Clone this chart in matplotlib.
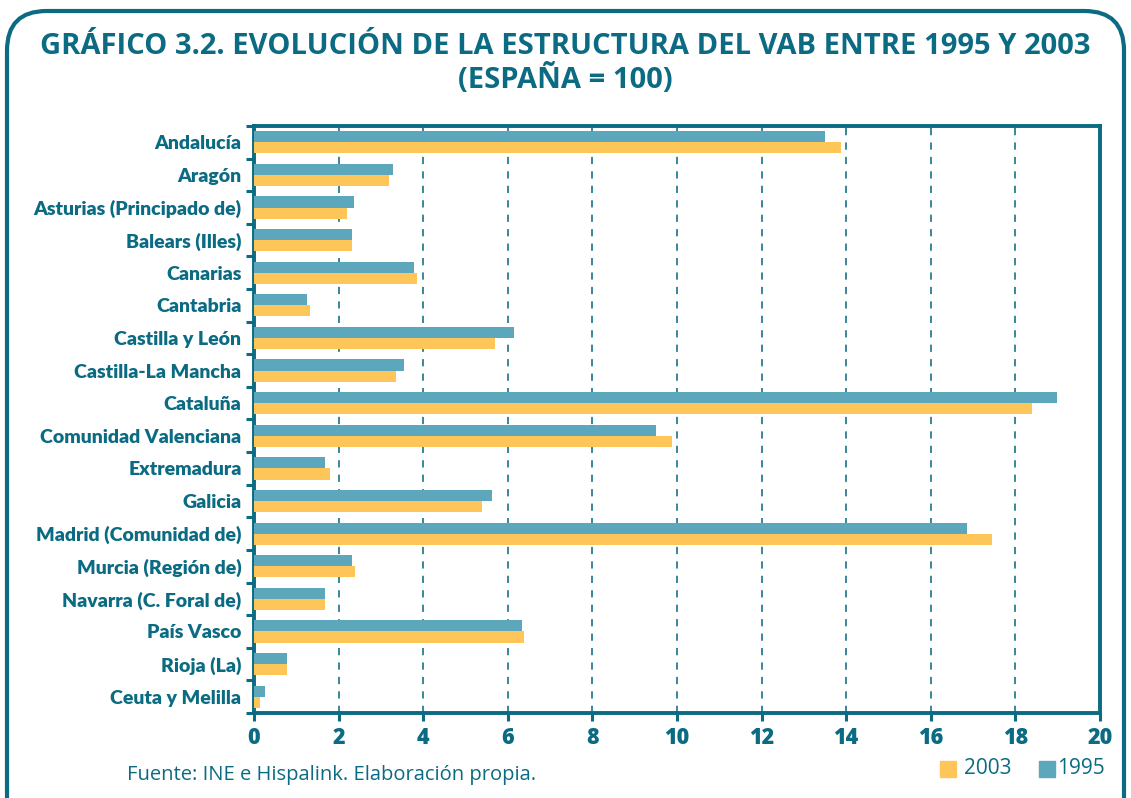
import matplotlib
matplotlib.use("Agg")
import matplotlib.pyplot as plt
from matplotlib.patches import FancyBboxPatch, Rectangle
import numpy as np

regions = ["Andalucía", "Aragón", "Asturias (Principado de)", "Balears (Illes)", "Canarias",
           "Cantabria", "Castilla y León", "Castilla-La Mancha", "Cataluña",
           "Comunidad Valenciana", "Extremadura", "Galicia", "Madrid (Comunidad de)",
           "Murcia (Región de)", "Navarra (C. Foral de)", "País Vasco", "Rioja (La)",
           "Ceuta y Melilla"]
v1995 = [13.49, 3.29, 2.37, 2.32, 3.79, 1.25, 6.15, 3.55, 18.98, 9.51, 1.68, 5.63,
         16.85, 2.32, 1.68, 6.34, 0.78, 0.26]
v2003 = [13.87, 3.20, 2.20, 2.32, 3.86, 1.33, 5.70, 3.36, 18.39, 9.87, 1.80, 5.40,
         17.44, 2.39, 1.68, 6.39, 0.78, 0.14]
xticks = [0, 2, 4, 6, 8, 10, 12, 14, 16, 18, 20]

TEAL = "#0b6b82"
C1995 = "#5da7bc"
C2003 = "#fec658"
LABEL_FONT = ["Lato", "Open Sans", "DejaVu Sans"]
TITLE_FONT = ["Open Sans", "DejaVu Sans"]

fig = plt.figure(figsize=(11.31, 7.98), dpi=100)
fig.patch.set_facecolor("white")

# outer rounded frame
frame = FancyBboxPatch((7 / 1131, -0.05), 1117 / 1131, (798 - 11) / 798 + 0.05,
                       boxstyle="round,pad=0,rounding_size=0.035",
                       transform=fig.transFigure, fill=False, edgecolor=TEAL,
                       linewidth=3.0, mutation_aspect=1131 / 798)
fig.patches.append(frame)

fig.text(0.5, 1 - 47 / 798, "GRÁFICO 3.2. EVOLUCIÓN DE LA ESTRUCTURA DEL VAB ENTRE 1995 Y 2003",
         ha="center", va="center", fontsize=21, fontweight="bold", color=TEAL,
         family=TITLE_FONT)
fig.text(0.5, 1 - 79 / 798, "(ESPAÑA = 100)", ha="center", va="center", fontsize=21,
         fontweight="bold", color=TEAL, family=TITLE_FONT)

ax = fig.add_axes([254 / 1131, 1 - 713 / 798, (1100 - 254) / 1131, (713 - 126) / 798])
y = np.arange(len(regions))
h = 0.34
ax.barh(y - h / 2, v1995, height=h, color=C1995, label="1995", zorder=3)
ax.barh(y + h / 2, v2003, height=h, color=C2003, label="2003", zorder=3)

ax.set_xlim(0, 20)
ax.set_ylim(len(regions) - 0.5, -0.5)
ax.set_xticks(xticks)
ax.set_xticklabels([str(t) for t in xticks], fontsize=15.5, fontweight="heavy", color=TEAL,
                   family=TITLE_FONT)
ax.set_yticks(y)
ax.set_yticklabels(regions, fontsize=14, fontweight="heavy", color=TEAL, family=LABEL_FONT)
ax.tick_params(axis="y", which="major", length=0, pad=9)
ax.set_yticks(np.arange(-0.5, len(regions), 1), minor=True)
ax.tick_params(axis="y", which="minor", length=6, width=2.2, color=TEAL, direction="out")
ax.tick_params(axis="x", which="major", length=6, width=2.2, color=TEAL, direction="out",
               pad=3)

for t in xticks[1:-1]:
    ax.axvline(t, color="#2b7d92", linestyle=(0, (4, 4)), linewidth=1.3, zorder=1)

for s in ax.spines.values():
    s.set_color(TEAL)
    s.set_linewidth(2.8)

fig.text(127 / 1131, 1 - 775 / 798, "Fuente: INE e Hispalink. Elaboración propia.",
         ha="left", va="center", fontsize=14.5, color=TEAL, family=TITLE_FONT)

# legend
fig.patches.append(Rectangle((940 / 1131, 1 - 777 / 798), 16 / 1131, 16 / 798,
                             transform=fig.transFigure, color=C2003))
fig.text(964 / 1131, 1 - 769 / 798, "2003", ha="left", va="center", fontsize=15,
         color=TEAL, family=TITLE_FONT)
fig.patches.append(Rectangle((1039 / 1131, 1 - 777 / 798), 16 / 1131, 16 / 798,
                             transform=fig.transFigure, color=C1995))
fig.text(1057 / 1131, 1 - 769 / 798, "1995", ha="left", va="center", fontsize=15,
         color=TEAL, family=TITLE_FONT)

fig.savefig("out.png", dpi=100, facecolor="white")
